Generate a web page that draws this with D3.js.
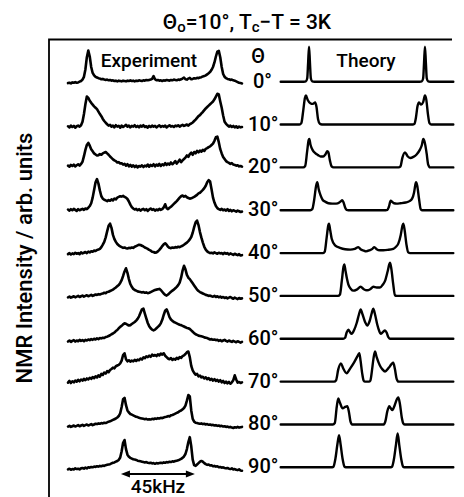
<!DOCTYPE html>
<html><head><meta charset="utf-8">
<script src="https://cdn.jsdelivr.net/npm/d3@7"></script>
<style>
html,body{margin:0;padding:0;background:#fff;}
svg{display:block;}
text{font-family:Roboto,"DejaVu Sans",sans-serif;fill:#000;font-weight:500;}
</style></head>
<body><svg id="chart" width="464" height="497"></svg>
<script>
// ---------- DATA ----------
const angles = ["0°","10°","20°","30°","40°","50°","60°","70°","80°","90°"];
const expFreqStart = -60;   // kHz, first sample of experimental traces
const expFreqStep = 1;      // kHz between samples
// Experimental spectra (arb. units), sampled at -60 … +60 kHz
const exp0 = [-4,-3,-5,-2,-3,-1,-3,-2,0,2,6,14,35,70,89,72,42,25,18,14,12,10,9,7,8,6,5,6,4,5,3,4,2,3,1,3,2,1,3,2,1,3,2,4,2,3,1,3,2,4,3,2,4,3,5,4,5,6,8,16,7,4,5,3,4,2,4,3,5,4,3,5,4,6,5,4,6,5,7,9,12,7,6,9,11,7,8,10,9,11,10,12,13,15,16,18,21,24,28,34,42,55,72,86,88,70,42,22,14,10,8,7,5,6,4,3,1,-1,-3,-4,-5];
const exp10 = [-5,-8,-3,-7,-4,-9,-5,-3,-6,-2,8,30,58,80,76,68,62,57,52,48,44,37,30,24,16,10,5,1,-3,-1,-6,-3,-8,-2,-6,-4,-9,-3,-7,-4,-1,-6,-3,-8,-4,-6,-2,-7,-4,-8,-3,-6,-2,-7,-5,-9,-4,-7,-3,-6,-4,-8,-5,-2,-7,-4,-6,-3,-8,-5,-2,-6,-4,-7,-3,-5,-2,-6,-3,-1,-4,-2,0,-3,1,3,6,10,14,19,24,27,32,36,41,46,50,54,58,62,66,72,80,88,86,66,48,26,8,2,-2,-6,-3,-7,-4,-8,-5,-9,-6,-8,-7];
const exp20 = [5,2,7,4,8,3,6,9,5,10,16,32,50,64,70,62,52,46,40,37,34,35,38,36,40,42,44,40,36,31,27,23,20,18,14,15,11,12,8,10,5,9,3,7,2,6,1,5,0,4,2,6,1,5,3,8,2,7,4,9,3,8,5,10,4,9,6,12,7,11,8,14,9,13,18,11,16,22,15,20,24,28,34,30,38,42,36,44,40,47,43,48,45,50,47,53,55,58,60,64,68,76,86,88,72,52,40,30,24,18,15,13,10,12,8,7,5,6,3,4,2];
const exp30 = [2,-1,3,0,4,1,-2,3,0,2,4,1,5,3,7,12,20,36,58,80,89,76,56,40,33,30,28,26,29,27,31,28,33,31,36,38,40,39,41,38,36,32,25,16,9,5,2,4,0,3,-1,2,4,0,3,-2,2,5,1,3,-1,2,0,4,1,3,8,17,6,3,7,10,14,18,22,26,31,36,40,42,39,41,37,35,33,34,36,38,41,44,48,50,54,58,63,70,80,86,82,60,36,22,12,6,3,1,4,0,2,-1,3,-2,1,-3,0,-2,-4,-1,-3,-5,-4];
const exp40 = [-3,0,-4,-1,-3,1,-2,0,-3,2,-1,1,3,0,4,2,5,4,7,6,9,10,12,17,24,32,45,62,78,84,72,52,40,32,26,22,19,17,15,16,14,13,15,14,16,15,18,20,22,24,23,21,19,16,14,12,9,7,4,3,1,2,5,9,14,20,25,28,24,18,15,14,16,15,17,16,18,17,19,21,24,27,30,34,39,46,58,74,88,93,80,60,44,30,18,10,5,2,0,1,-1,2,0,-2,1,-1,0,-3,1,-2,0,-4,-1,-3,-5,-2,-4,-6,-3,-7,-6];
const exp50 = [-4,-2,-5,-3,-1,-4,-2,0,-3,-1,1,-2,0,2,-1,1,3,0,2,4,3,5,4,6,7,9,8,11,12,14,16,18,21,24,28,31,37,45,57,70,79,66,48,34,26,20,17,15,13,12,11,10,11,9,10,8,9,11,13,15,17,18,19,20,17,12,7,3,1,4,8,12,15,18,22,26,31,38,52,72,86,76,60,52,48,42,36,30,24,18,14,11,9,7,5,3,2,0,1,-1,-2,0,-3,-1,-4,-2,-5,-3,-6,-4,-7,-5,-3,-6,-8,-5,-7,-9,-6,-8,-7];
const exp60 = [-8,-5,-9,-6,-4,-8,-5,-7,-3,-6,-4,-7,-3,-5,-2,-4,-1,-3,0,-2,1,-1,2,1,3,2,5,6,8,10,13,15,18,22,25,30,34,37,41,44,43,40,38,39,42,45,48,52,57,64,74,84,86,72,58,45,36,30,26,24,26,30,34,38,44,54,68,80,84,74,62,55,51,48,46,44,42,40,39,37,35,33,31,30,28,24,20,16,13,11,9,8,7,6,4,3,2,0,-2,-1,-3,-2,-4,-3,-6,-4,-7,-5,-3,-6,-8,-5,-7,-9,-6,-8,-10,-7,-9,-11,-9];
const exp70 = [-3,2,-4,1,-2,3,0,5,1,6,3,8,4,9,6,11,8,13,10,15,12,18,14,22,19,26,23,30,27,33,36,40,38,44,46,48,52,60,76,81,64,58,61,57,60,58,62,59,63,61,66,63,69,67,72,70,74,71,77,74,76,73,78,75,80,77,81,74,70,66,64,67,62,65,63,68,65,70,68,73,75,79,84,86,70,45,32,25,20,22,15,17,12,14,9,12,7,10,5,8,3,7,2,5,0,4,-2,2,-4,0,-5,-1,-6,-2,4,18,6,-3,-1,-4,-2];
const exp80 = [-6,-4,-7,-5,-3,-6,-4,-2,-5,-3,-1,-4,-2,0,-3,-1,1,-2,0,2,1,3,2,4,3,5,4,6,8,9,11,13,15,17,20,24,32,50,72,76,55,40,34,30,28,26,24,22,21,19,18,17,16,15,16,14,15,14,16,15,17,16,18,17,19,18,20,21,22,24,23,26,27,29,31,33,35,38,40,43,47,54,68,84,80,40,16,8,5,4,3,2,3,1,2,0,1,-1,0,-2,-1,-3,-2,-4,-3,-5,-4,-6,-5,-7,-6,-8,-7,-9,-10,-8,-9,-7,-9,-8,-7];
const exp90 = [-6,-4,-7,-5,-6,-3,-5,-4,-6,-3,-2,-4,-1,-3,0,-1,1,0,2,1,3,2,4,3,5,4,6,7,8,9,11,13,14,16,18,21,28,46,70,78,52,36,30,27,25,23,22,21,19,18,17,16,15,14,15,13,12,13,11,12,10,12,11,12,13,12,14,13,15,14,16,15,17,16,18,19,20,22,24,27,31,38,52,72,86,60,22,6,4,8,12,16,18,16,12,9,7,8,5,6,3,4,2,3,0,1,-1,0,-2,-3,-2,-4,-5,-3,-6,-5,-7,-8,-6,-9,-10];
const expSeries = [exp0,exp10,exp20,exp30,exp40,exp50,exp60,exp70,exp80,exp90];

// Theory spectra: [frequency kHz, intensity arb. units]
const th0 = [[-67,0],[-49,0],[-47.5,1],[-46.4,10],[-45.7,55],[-45,100],[-44.3,55],[-43.6,10],[-42.5,1],[-41,0],[41,0],[42.5,1],[43.6,10],[44.3,55],[45,100],[45.7,55],[46.4,10],[47.5,1],[49,0],[67,0]];
const th10 = [[-67,0],[-52.5,0],[-51,4],[-49.5,40],[-48.2,76],[-47.4,83],[-46,70],[-44,61],[-42,59],[-40.2,63],[-39.2,50],[-38,15],[-36.6,2],[-35,0],[35.5,0],[36.8,2],[38,20],[39.2,52],[40.4,63],[42,57],[43.6,64],[45,83],[46,72],[47.3,30],[48.5,4],[50,0],[67,0]];
const th20 = [[-67,0],[-49.5,0],[-48,4],[-46.5,45],[-45.3,78],[-44.8,81],[-43.8,64],[-42.3,50],[-40,40],[-38,35],[-36,31],[-34,31],[-32.3,37],[-30.8,46],[-30,43],[-28.8,20],[-27.5,3],[-26,0],[24.5,0],[26,3],[27.5,28],[29.5,43],[31.5,32],[33.5,27],[36,30],[38.5,37],[41,50],[42.6,64],[43.7,81],[44.8,72],[46.3,40],[47.5,8],[49,0],[67,0]];
const th30 = [[-67,0],[-44,0],[-42.5,3],[-41,30],[-39.5,70],[-38.6,80],[-37.5,60],[-36.1,43],[-34.5,30],[-32.3,24],[-30,20],[-27,19],[-24,19],[-21.5,22],[-20.2,26],[-19.2,29],[-18.2,22],[-17,8],[-15.8,1],[-14.5,0],[14.5,0],[15.8,1],[17,10],[18.4,27],[19.5,24],[21,20],[23,19],[26,20],[30,22],[33,26],[35,33],[36.5,50],[37.5,72],[38,80],[39,70],[40.3,35],[41.7,3],[43,0],[67,0]];
const th40 = [[-67,0],[-34,0],[-32.8,4],[-31.3,45],[-30,80],[-29.5,84],[-28.6,66],[-27.4,41],[-24.8,22],[-21,15],[-17,11],[-13,10],[-9.5,12],[-6.7,17],[-5,11],[-2.5,7],[-0.8,5],[2,8],[4.2,12],[5.7,17],[7.5,11],[10,8],[12.7,8],[16,9],[20.4,12],[22.5,18],[24.3,27],[26.2,52],[27.5,78],[28.2,84],[29.2,66],[30.6,25],[32,2],[33.5,0],[67,0]];
const th50 = [[-67,0],[-22.5,0],[-21,4],[-19.5,45],[-18.2,84],[-17.6,90],[-16.6,70],[-15.5,48],[-14.5,33],[-12.5,20],[-10.6,15],[-8,18],[-4.9,26],[-2.5,19],[0,16],[2.5,19],[4.9,26],[7.5,24],[10.1,24],[12.2,32],[14,43],[16,70],[17.3,90],[17.9,95],[19,75],[20.3,35],[21.7,2],[23,0],[67,0]];
const th60 = [[-67,0],[-18.5,0],[-17,3],[-15.8,18],[-14.5,26],[-13.2,19],[-11.9,14],[-10,25],[-8,45],[-6.2,70],[-4.9,84],[-3.5,70],[-1.5,48],[0.2,38],[2,50],[3.8,75],[4.9,86],[6.2,70],[8,40],[9.5,22],[10.6,14],[12.3,19],[14,24],[15.3,17],[16.5,5],[17.8,0],[67,0]];
const th70 = [[-67,0],[-25.5,0],[-24,4],[-22.3,35],[-20.2,52],[-18.5,38],[-15.8,24],[-13,38],[-10,55],[-7.5,72],[-6,81],[-5,60],[-3.8,25],[-2.6,3],[-1.5,0],[1.5,0],[2.6,3],[3.8,30],[5,65],[6.2,86],[7.5,70],[10,46],[12,35],[14,29],[17,40],[19,50],[20.4,54],[21.7,35],[23,8],[24.5,0],[67,0]];
const th80 = [[-67,0],[-26.5,0],[-25,4],[-23.5,50],[-22.3,74],[-21,62],[-18.9,46],[-17,50],[-15.3,52],[-14,35],[-12.8,8],[-11.5,0],[13,0],[14.2,8],[15.8,38],[17.3,52],[18.5,46],[19.7,41],[21.5,55],[23.2,72],[24.3,77],[25.5,60],[27,20],[28.2,3],[29.5,0],[67,0]];
const th90 = [[-67,0],[-27,0],[-26,2],[-24.5,25],[-23,65],[-21.7,92],[-20.5,65],[-19,25],[-17.5,2],[-16.5,0],[18.5,0],[19.5,2],[21,25],[22.5,65],[23.8,97],[25,65],[26.5,25],[28,2],[29,0],[67,0]];
const theorySeries = [th0,th10,th20,th30,th40,th50,th60,th70,th80,th90];

const arrowSpan = [-23.5, 27.5]; // kHz, the "45kHz" marker
const arrowLabel = "45kHz";

// ---------- LAYOUT ----------
const svg = d3.select("#chart");
const rowY = d3.scalePoint().domain(angles).range([81.7, 467.3]);
const xExp = d3.scaleLinear().domain([-60, 60]).range([68, 242]);
const xTh = d3.scaleLinear().domain([-67, 67]).range([280.7, 453.3]);
const iScale = d3.scaleLinear().domain([0, 100]).range([0, 35]);

// frame
svg.append("path").attr("d", "M49,497V39.5H452").attr("fill","none")
  .attr("stroke","#000").attr("stroke-width",1.8);

// experimental traces
angles.forEach((a, i) => {
  const vals = expSeries[i];
  const line = d3.line()
    .x((d, j) => xExp(expFreqStart + j * expFreqStep))
    .y(d => rowY(a) - iScale(d))
    .curve(d3.curveLinear);
  svg.append("path").attr("d", line(vals)).attr("fill","none")
    .attr("stroke","#000").attr("stroke-width",2.6)
    .attr("stroke-linejoin","round").attr("stroke-linecap","round");
});

// theory traces
angles.forEach((a, i) => {
  const line = d3.line()
    .x(d => xTh(d[0]))
    .y(d => rowY(a) - iScale(d[1]))
    .curve(d3.curveMonotoneX);
  svg.append("path").attr("d", line(theorySeries[i])).attr("fill","none")
    .attr("stroke","#000").attr("stroke-width",2.4)
    .attr("stroke-linejoin","round").attr("stroke-linecap","round");
});

// angle labels
angles.forEach((a, i) => {
  svg.append("text").attr("x", i === 0 ? 272 : 278.5).attr("y", rowY(a) + 6)
    .attr("text-anchor","end").attr("font-size",20).text(a);
});
svg.append("text").attr("x",258).attr("y",63).attr("text-anchor","middle")
  .attr("font-size",20).text("Θ");

// panel titles
svg.append("text").attr("x",149).attr("y",67).attr("text-anchor","middle")
  .attr("font-size",19).text("Experiment");
svg.append("text").attr("x",366).attr("y",67).attr("text-anchor","middle")
  .attr("font-size",19).text("Theory");

// main title
const t = svg.append("text").attr("x",247).attr("y",29).attr("text-anchor","middle")
  .attr("font-size",21);
t.append("tspan").text("Θ");
t.append("tspan").attr("font-size",15).attr("dy",3).text("o");
t.append("tspan").attr("dy",-3).text("=10°, T");
t.append("tspan").attr("font-size",15).attr("dy",3).text("c");
t.append("tspan").attr("dy",-3).text("−T = 3K");

// y label
svg.append("text").attr("transform","translate(32,258) rotate(-90)")
  .attr("text-anchor","middle").attr("font-size",22)
  .text("NMR Intensity / arb. units");

// 45 kHz arrow
const ay = 474;
const ax0 = xExp(arrowSpan[0]), ax1 = xExp(arrowSpan[1]);
svg.append("line").attr("x1",ax0+6).attr("x2",ax1-6).attr("y1",ay).attr("y2",ay)
  .attr("stroke","#000").attr("stroke-width",2);
svg.append("path").attr("d",`M${ax0},${ay}l9,-3.5v7z`).attr("fill","#000");
svg.append("path").attr("d",`M${ax1},${ay}l-9,-3.5v7z`).attr("fill","#000");
svg.append("text").attr("x",(ax0+ax1)/2).attr("y",493).attr("text-anchor","middle")
  .attr("font-size",19).text(arrowLabel);
</script></body></html>
